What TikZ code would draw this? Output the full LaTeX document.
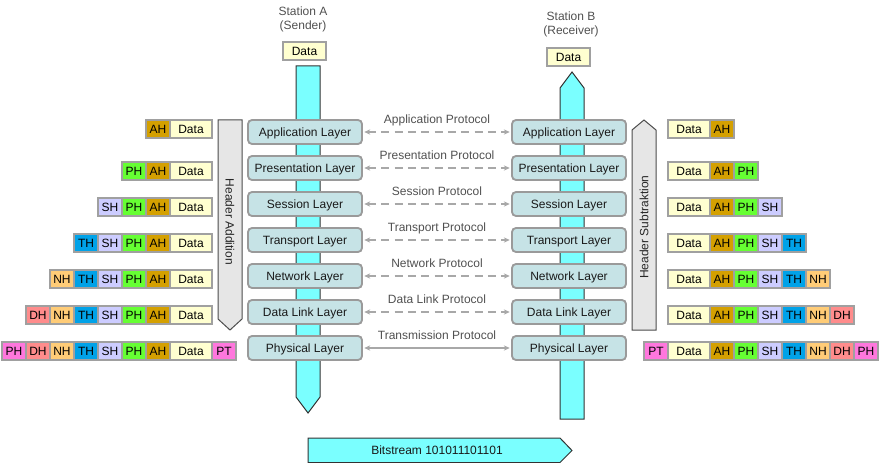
\documentclass[tikz,border=0pt]{standalone}
\usepackage{fontspec}
\setmainfont{Liberation Sans}
\usetikzlibrary{arrows.meta}
\definecolor{cyanf}{HTML}{7AFFFF}
\definecolor{layerf}{HTML}{C6E3E6}
\definecolor{layerb}{HTML}{9A9A9A}
\definecolor{cellb}{HTML}{A0A0A0}
\definecolor{datac}{HTML}{FFFFD0}
\definecolor{ahc}{HTML}{D4A000}
\definecolor{phc}{HTML}{66FF33}
\definecolor{shc}{HTML}{CCCCFF}
\definecolor{thc}{HTML}{00A2E8}
\definecolor{nhc}{HTML}{FFCC77}
\definecolor{dhc}{HTML}{FF8C8C}
\definecolor{ppc}{HTML}{FF77DD}
\definecolor{hdrf}{HTML}{E6E6E6}
\definecolor{protoc}{HTML}{A8A8A8}
\definecolor{labc}{HTML}{505050}
\begin{document}
\begin{tikzpicture}[x=0.75pt,y=-0.75pt,
  font=\fontsize{9}{10.5}\selectfont,
  cell/.style={draw=cellb, line width=1.4pt, inner sep=0pt, outer sep=0pt,
    minimum width=18pt, minimum height=13.5pt, text=black, text height=6.5pt, text depth=0pt},
  layer/.style={draw=layerb, line width=1.4pt, fill=layerf, rounded corners=3pt,
    minimum width=85.5pt, minimum height=18pt, inner sep=0pt, text=black!90, text height=6.5pt, text depth=0pt},
  column/.style={draw=black!80, line width=0.75pt, fill=cyanf},
  hdrarrow/.style={draw=black!70, line width=0.75pt, fill=hdrf},
  proto/.style={draw=protoc, line width=1.2pt, {Stealth[length=4.5pt,width=4pt]}-{Stealth[length=4.5pt,width=4pt]}, shorten <=1pt, shorten >=1pt},
  plabel/.style={text=labc, midway, yshift=9.75pt, inner sep=0pt, text height=6.5pt, text depth=0pt},
  station/.style={text=labc, align=center, inner sep=0pt}]
\useasboundingbox (0,0) rectangle (880,463);
% columns
\draw[column] (296,66) -- (320,66) -- (320,397) -- (308,413) -- (296,397) -- cycle;
\draw[column] (560,419) -- (560,88) -- (572,72) -- (584,88) -- (584,419) -- cycle;
% stations
\node[station] (stA) at (303,19) {Station A\\(Sender)};
\node[station] (stB) at (571,24.5) {Station B\\(Receiver)};
\node[cell, fill=datac, minimum width=32pt] (dA) at (304.5,51) {Data};
\node[cell, fill=datac, minimum width=32pt] (dB) at (568.5,57) {Data};
% layers
\foreach \i/\y/\t in {app/132/Application, pre/168/Presentation, ses/204/Session, tra/240/Transport, net/276/Network, dat/312/Data Link, phy/348/Physical} {
  \node[layer] (A\i) at (305,\y) {\t\ Layer};
  \node[layer] (B\i) at (569,\y) {\t\ Layer};
}
\foreach \i/\t in {app/Application Protocol, pre/Presentation Protocol, ses/Session Protocol, tra/Transport Protocol, net/Network Protocol, dat/Data Link Protocol} {
  \draw[proto, dash pattern=on 6pt off 4pt] (A\i) -- node[plabel] {\t} (B\i);
}
\draw[proto, line width=1pt] (Aphy) -- node[plabel] {Transmission Protocol} (Bphy);
% header arrows
\draw[hdrarrow] (218,120) -- (242,120) -- (242,319) -- (230,330) -- (218,319) -- cycle;
\node[rotate=-90, text=black!85, text height=6.5pt, text depth=0pt] (hadd) at (230,222) {Header Addition};
\draw[hdrarrow] (632,330) -- (632,130) -- (644,120) -- (656,130) -- (656,330) -- cycle;
\node[rotate=90, text=black!85, text height=6.5pt, text depth=0pt] (hsub) at (644,227) {Header Subtraktion};
% bitstream
\draw[column] (308,438) -- (560,438) -- (572,450.5) -- (560,462.5) -- (308,462.5) -- cycle;
\node[text=black!90, text height=6.5pt, text depth=0pt] (bits) at (437,450.5) {Bitstream 101011101101};
% packets
\foreach \r/\y in {1/129,2/171,3/207,4/243,5/279,6/315,7/351} {
  \node[cell, fill=datac, minimum width=31.5pt, anchor=west] (L\r-d) at (170,\y) {Data};
  \node[cell, fill=datac, minimum width=31.5pt, anchor=west] (R\r-d) at (668,\y) {Data};
  \foreach \k/\t/\c in {1/AH/ahc,2/PH/phc,3/SH/shc,4/TH/thc,5/NH/nhc,6/DH/dhc,7/PH/ppc} {
    \ifnum\k>\r\relax\else
      \node[cell, fill=\c, anchor=east] (L\r-h\k) at ({170-24*(\k-1)},\y) {\t};
      \node[cell, fill=\c, anchor=west] (R\r-h\k) at ({710+24*(\k-1)},\y) {\t};
    \fi
  }
}
\node[cell, fill=ppc, anchor=west] (L7-pt) at (212,351) {PT};
\node[cell, fill=ppc, anchor=east] (R7-pt) at (668,351) {PT};
\end{tikzpicture}
\end{document}
